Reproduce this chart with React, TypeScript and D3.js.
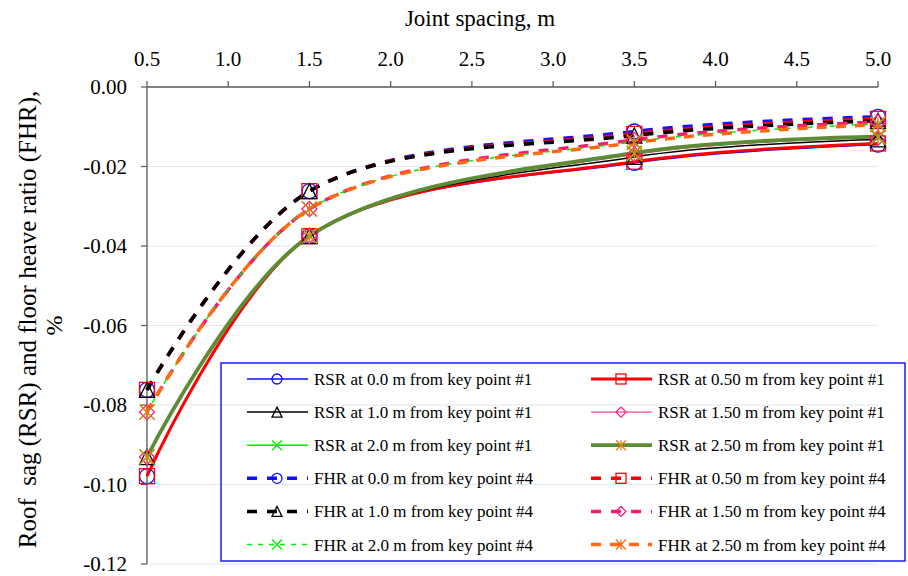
import React from 'react';
import * as d3 from 'd3';

// ---------- data ----------
const jointSpacing = [0.5, 1.5, 3.5, 5.0];

const rsr00 = [-0.0979, -0.0375, -0.0191, -0.0145];
const rsr05 = [-0.0979, -0.0375, -0.0188, -0.0142];
const rsr10 = [-0.0931, -0.0375, -0.0176, -0.0132];
const rsr15 = [-0.0931, -0.0375, -0.0170, -0.0128];
const rsr20 = [-0.0931, -0.0375, -0.0168, -0.0127];
const rsr25 = [-0.0931, -0.0375, -0.0166, -0.0125];
const fhr00 = [-0.0762, -0.0262, -0.0112, -0.0075];
const fhr05 = [-0.0762, -0.0262, -0.0118, -0.0080];
const fhr10 = [-0.0762, -0.0262, -0.0122, -0.0085];
const fhr15 = [-0.0818, -0.0307, -0.0133, -0.0088];
const fhr20 = [-0.0818, -0.0307, -0.0138, -0.0093];
const fhr25 = [-0.0818, -0.0307, -0.0140, -0.0095];

const xTickValues = [0.5, 1.0, 1.5, 2.0, 2.5, 3.0, 3.5, 4.0, 4.5, 5.0];
const yTickValues = [0, -0.02, -0.04, -0.06, -0.08, -0.1, -0.12];

const seriesLabels = [
  'RSR at 0.0 m from key point #1',
  'RSR at 0.50 m from key point #1',
  'RSR at 1.0 m from key point #1',
  'RSR at 1.50 m from key point #1',
  'RSR at 2.0 m from key point #1',
  'RSR at 2.50 m from key point #1',
  'FHR at 0.0 m from key point #4',
  'FHR at 0.50 m from key point #4',
  'FHR at 1.0 m from key point #4',
  'FHR at 1.50 m from key point #4',
  'FHR at 2.0 m from key point #4',
  'FHR at 2.50 m from key point #4',
];
const seriesValues = [rsr00, rsr05, rsr10, rsr15, rsr20, rsr25, fhr00, fhr05, fhr10, fhr15, fhr20, fhr25];

// ---------- styles ----------
type Marker = 'circle' | 'square' | 'triangle' | 'diamond' | 'x' | 'star';
const styles: { color: string; width: number; dash?: string; marker: Marker; mcolor: string }[] = [
  { color: '#1010ff', width: 1.5, marker: 'circle', mcolor: '#1010ff' },
  { color: '#ff0000', width: 3, marker: 'square', mcolor: '#ff0000' },
  { color: '#000000', width: 1.5, marker: 'triangle', mcolor: '#000000' },
  { color: '#ff1a80', width: 1, marker: 'diamond', mcolor: '#ff1a80' },
  { color: '#00ee00', width: 1.5, marker: 'x', mcolor: '#00ee00' },
  { color: '#5e8b35', width: 3.8, marker: 'star', mcolor: '#e8820a' },
  { color: '#1010ff', width: 3.5, dash: '10,10', marker: 'circle', mcolor: '#1010ff' },
  { color: '#ff0000', width: 3.5, dash: '10,10', marker: 'square', mcolor: '#ff0000' },
  { color: '#000000', width: 3.5, dash: '10,10', marker: 'triangle', mcolor: '#000000' },
  { color: '#ff1a6e', width: 3.5, dash: '10,10', marker: 'diamond', mcolor: '#ff1a80' },
  { color: '#00ee00', width: 1.5, dash: '5,6', marker: 'x', mcolor: '#00ee00' },
  { color: '#ff6a10', width: 3.5, dash: '10,9', marker: 'star', mcolor: '#ff6a10' },
];

const FONT = "'Liberation Serif', 'Times New Roman', Times, 'DejaVu Serif', serif";

function MarkerShape({ type, cx, cy, size, color }: { type: Marker; cx: number; cy: number; size: number; color: string }) {
  const h = size / 2;
  const common = { fill: 'none', stroke: color, strokeWidth: 1.3 };
  switch (type) {
    case 'circle':
      return <circle cx={cx} cy={cy} r={h} {...common} />;
    case 'square':
      return <rect x={cx - h} y={cy - h} width={size} height={size} {...common} />;
    case 'triangle':
      return <path d={`M${cx},${cy - h}L${cx + h},${cy + h}L${cx - h},${cy + h}Z`} {...common} />;
    case 'diamond':
      return <path d={`M${cx},${cy - h}L${cx + h},${cy}L${cx},${cy + h}L${cx - h},${cy}Z`} {...common} />;
    case 'x':
      return <path d={`M${cx - h},${cy - h}L${cx + h},${cy + h}M${cx - h},${cy + h}L${cx + h},${cy - h}`} {...common} />;
    case 'star':
      return (
        <path
          d={`M${cx - h},${cy - h}L${cx + h},${cy + h}M${cx - h},${cy + h}L${cx + h},${cy - h}M${cx},${cy - h}L${cx},${cy + h}`}
          {...common}
        />
      );
  }
  return null;
}

export default function App() {
  const W = 908;
  const H = 576;
  const left = 147;
  const right = 878;
  const top = 87;
  const bottom = 564;

  const x = d3.scaleLinear().domain([0.5, 5.0]).range([left, right]);
  const y = d3.scaleLinear().domain([0, -0.12]).range([top, bottom]);

  const line = d3
    .line<[number, number]>()
    .x((d) => x(d[0]))
    .y((d) => y(d[1]))
    .curve(d3.curveCatmullRom.alpha(0.5));

  const legX = [247, 591];
  const legY0 = 379;
  const legDY = 33.1;
  const txt = { fontFamily: FONT } as React.CSSProperties;

  return (
    <svg width={W} height={H} style={{ position: 'absolute', left: 0, top: 0, background: '#fff', fontFamily: FONT }}>
      <rect x={0} y={0} width={W} height={H} fill="#fff" />
      {/* gridlines */}
      {yTickValues.slice(1).map((t) => (
        <line key={'g' + t} x1={left} x2={right} y1={y(t)} y2={y(t)} stroke="#dde8f4" strokeWidth={1.2} />
      ))}
      {/* axes */}
      <line x1={left} x2={right} y1={top} y2={top} stroke="#595959" strokeWidth={1.3} />
      <line x1={left} x2={left} y1={top} y2={bottom} stroke="#595959" strokeWidth={1.3} />
      {xTickValues.map((t) => (
        <g key={'x' + t}>
          <line x1={x(t)} x2={x(t)} y1={top} y2={top - 6} stroke="#595959" strokeWidth={1.2} />
          <text x={x(t)} y={66} textAnchor="middle" fontSize={21} fill="#000" style={txt}>
            {t.toFixed(1)}
          </text>
        </g>
      ))}
      {yTickValues.map((t) => (
        <g key={'y' + t}>
          <line x1={left - 6} x2={left} y1={y(t)} y2={y(t)} stroke="#595959" strokeWidth={1.2} />
          <text x={127} y={y(t) + 7} textAnchor="end" fontSize={21} fill="#000" style={txt}>
            {t === 0 ? '0.00' : t.toFixed(2)}
          </text>
        </g>
      ))}
      {/* titles */}
      <text x={480} y={26} textAnchor="middle" fontSize={23} fill="#000" style={txt}>
        Joint spacing, m
      </text>
      <text
        transform={`translate(36,${(top + bottom) / 2 - 6}) rotate(-90)`}
        textAnchor="middle"
        fontSize={25}
        fill="#000"
        style={{ ...txt, whiteSpace: 'pre' }}
      >
        {'Roof  sag (RSR) and floor heave ratio (FHR),'}
      </text>
      <text transform={`translate(62,${(top + bottom) / 2}) rotate(-90)`} textAnchor="middle" fontSize={24} fill="#000" style={txt}>
        %
      </text>

      {/* series lines */}
      {seriesValues.map((vals, i) => {
        const pts = jointSpacing.map((v, j) => [v, vals[j]] as [number, number]);
        const s = styles[i];
        return (
          <path key={'l' + i} d={line(pts) || ''} fill="none" stroke={s.color} strokeWidth={s.width} strokeDasharray={s.dash} />
        );
      })}
      {/* markers */}
      {seriesValues.map((vals, i) => {
        const s = styles[i];
        return (
          <g key={'m' + i}>
            {jointSpacing.map((v, j) => (
              <MarkerShape key={j} type={s.marker} cx={x(v)} cy={y(vals[j])} size={15} color={s.mcolor} />
            ))}
          </g>
        );
      })}

      {/* legend */}
      <rect x={221} y={363} width={684} height={198} fill="none" stroke="#1a1aff" strokeWidth={1.5} />
      {seriesLabels.map((label, i) => {
        const col = i % 2;
        const row = Math.floor(i / 2);
        const lx = legX[col];
        const ly = legY0 + row * legDY;
        const s = styles[i];
        return (
          <g key={'lg' + i}>
            <line x1={lx} x2={lx + 61} y1={ly} y2={ly} stroke={s.color} strokeWidth={s.width} strokeDasharray={s.dash} />
            <MarkerShape type={s.marker} cx={lx + 30} cy={ly} size={10} color={s.mcolor} />
            <text x={lx + 67} y={ly + 6} fontSize={17} fill="#000" style={txt}>
              {label}
            </text>
          </g>
        );
      })}
    </svg>
  );
}
